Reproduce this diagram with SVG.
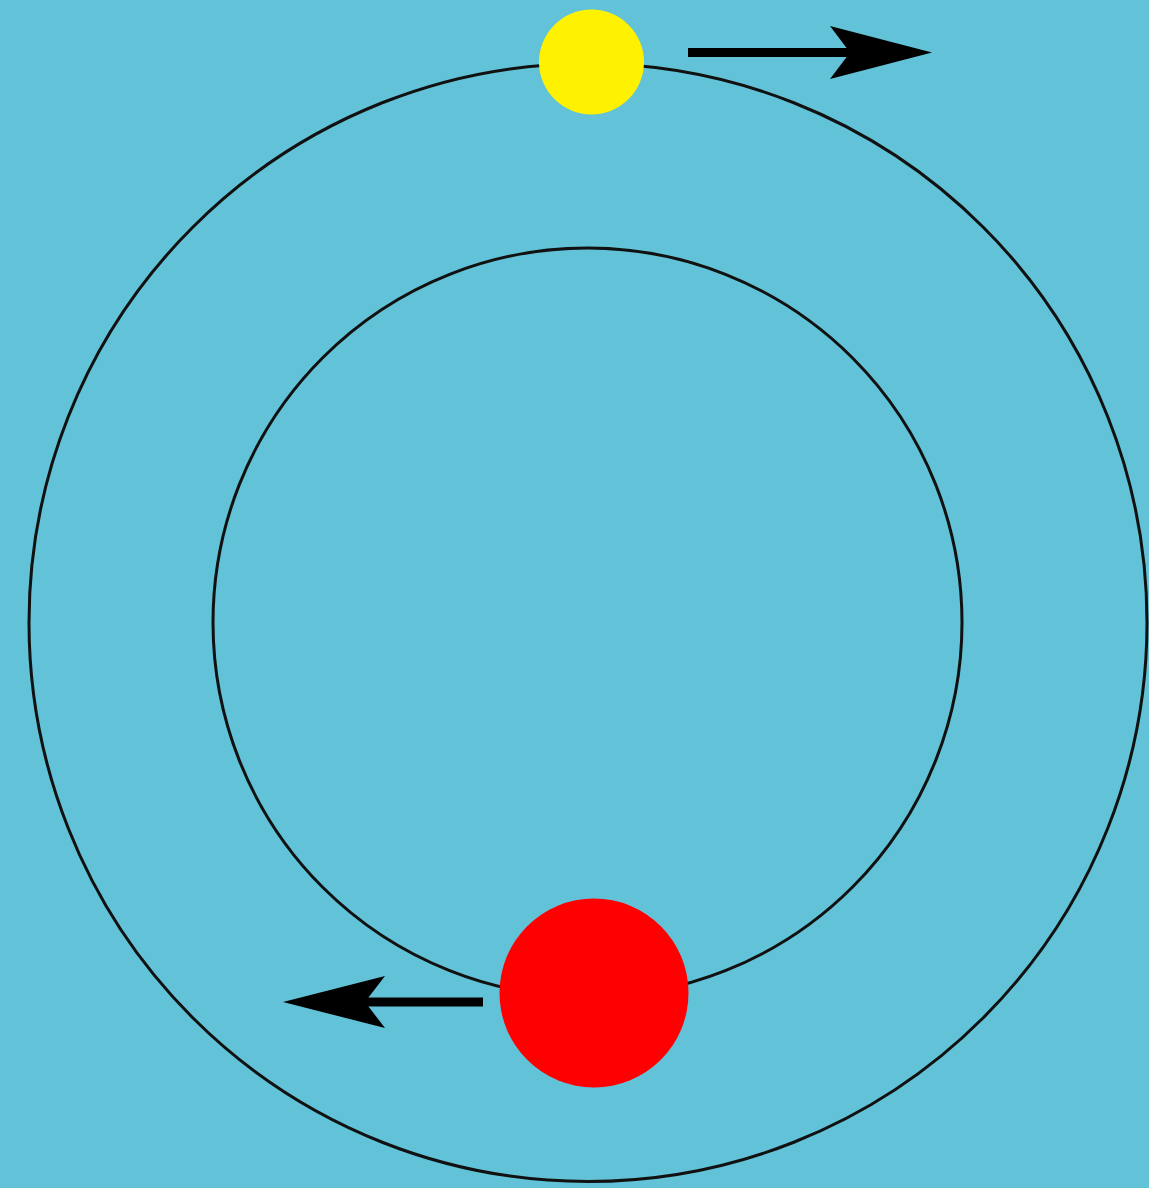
<svg xmlns="http://www.w3.org/2000/svg" width="1149" height="1188" viewBox="0 0 1149 1188">
<style>
.orbit{fill:none;stroke:#111;stroke-width:3}
.shaft{stroke:#000;stroke-width:9;fill:none}
.head{fill:#000}
</style>
<rect width="1149" height="1188" fill="#62C2D7"/>
<g id="orbits">
<circle class="orbit" cx="588" cy="622.5" r="559"/>
<circle class="orbit" cx="587.5" cy="622.5" r="374.5"/>
</g>
<g id="star-yellow"><circle cx="591.5" cy="62" r="52.5" fill="#FFF200"/></g>
<g id="star-red"><circle cx="594" cy="993" r="94.5" fill="#FF0000"/></g>
<g id="connectors">
<line class="shaft" x1="688" y1="52.5" x2="855" y2="52.5"/>
<polygon class="head" points="932,52.5 830,26 850,52.5 830,79"/>
<line class="shaft" x1="483" y1="1002" x2="360" y2="1002"/>
<polygon class="head" points="283,1002 385,976 365,1002 385,1028"/>
</g>
</svg>
